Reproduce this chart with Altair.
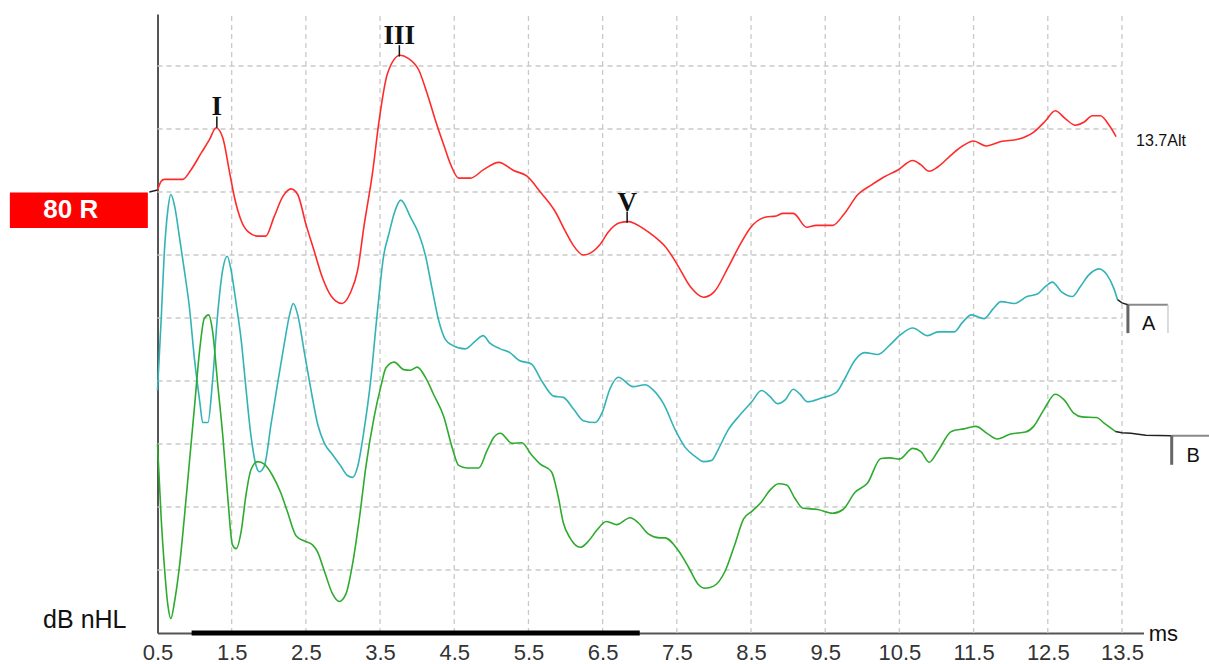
import altair as alt
import pandas as pd

# ---- axis layout (latency in ms, amplitude in grid divisions) ----
X_TICKS = [0.5 + i for i in range(14)]
AMP_GRID = [1, 2, 3, 4, 5, 6, 7, 8, 9]
X_MIN, X_MAX = 0.5, 13.79
Y_MIN, Y_MAX = 0.0, 9.825
ANALYSIS_WINDOW = [0.96, 7.0]

# ---- traces ----
RED_T = [0.50, 0.55, 0.59, 0.84, 0.95, 1.09, 1.20, 1.29, 1.38, 1.47, 1.54, 1.63, 1.72, 1.85,
         1.96, 2.07, 2.19, 2.30, 2.39, 2.50, 2.61, 2.72, 2.84, 2.99, 3.10, 3.20, 3.28, 3.40,
         3.49, 3.60, 3.77, 3.88, 4.02, 4.13, 4.24, 4.36, 4.45, 4.56, 4.72, 4.89, 5.10, 5.30,
         5.48, 5.66, 5.86, 6.00, 6.10, 6.24, 6.46, 6.58, 6.73, 6.85, 6.93, 7.11, 7.27, 7.34,
         7.50, 7.68, 7.86, 8.00, 8.19, 8.35, 8.49, 8.69, 8.84, 8.93, 9.07, 9.25, 9.38, 9.60,
         9.76, 9.94, 10.12, 10.28, 10.48, 10.68, 10.79, 10.90, 11.02, 11.20, 11.35, 11.50,
         11.67, 11.87, 12.11, 12.31, 12.47, 12.60, 12.74, 12.87, 12.99, 13.10, 13.21, 13.32,
         13.42]
RED_V = [7.03, 7.17, 7.20, 7.20, 7.35, 7.62, 7.83, 8.02, 7.86, 7.32, 6.90, 6.54, 6.37, 6.30,
         6.30, 6.60, 6.93, 7.05, 6.96, 6.49, 6.07, 5.65, 5.35, 5.23, 5.40, 5.77, 6.43, 7.32,
         8.16, 8.88, 9.17, 9.12, 8.94, 8.58, 8.16, 7.74, 7.44, 7.22, 7.22, 7.35, 7.47, 7.34,
         7.25, 7.00, 6.69, 6.37, 6.16, 6.00, 6.16, 6.37, 6.51, 6.53, 6.50, 6.37, 6.22, 6.14,
         5.86, 5.50, 5.33, 5.41, 5.80, 6.16, 6.43, 6.60, 6.62, 6.66, 6.66, 6.44, 6.47, 6.47,
         6.66, 6.96, 7.11, 7.23, 7.35, 7.50, 7.43, 7.33, 7.40, 7.59, 7.73, 7.81,
         7.73, 7.80, 7.84, 7.95, 8.13, 8.29, 8.16, 8.06, 8.11, 8.21, 8.21, 8.07,
         7.88]

TEAL_T = [0.50, 0.55, 0.59, 0.64, 0.68, 0.73, 0.80, 0.86, 0.93, 1.00, 1.07, 1.11, 1.18, 1.24,
          1.31, 1.38, 1.44, 1.49, 1.56, 1.63, 1.69, 1.76, 1.83, 1.87, 1.94, 2.03, 2.12, 2.21,
          2.28, 2.33, 2.39, 2.48, 2.57, 2.66, 2.75, 2.86, 2.97, 3.06, 3.13, 3.20, 3.28, 3.37,
          3.46, 3.55, 3.62, 3.69, 3.78, 3.91, 4.02, 4.11, 4.20, 4.29, 4.38, 4.47, 4.65, 4.78,
          4.89, 4.98, 5.12, 5.25, 5.37, 5.54, 5.68, 5.84, 5.97, 6.11, 6.24, 6.40, 6.49, 6.60,
          6.71, 6.91, 7.07, 7.18, 7.32, 7.48, 7.61, 7.75, 7.86, 7.97, 8.06, 8.19, 8.35, 8.51,
          8.64, 8.75, 8.86, 8.96, 9.07, 9.16, 9.26, 9.45, 9.65, 9.76, 9.90, 10.03, 10.21, 10.37,
          10.52, 10.68, 10.88, 11.02, 11.24, 11.35, 11.47, 11.64, 11.76, 11.87, 12.05, 12.22,
          12.36, 12.47, 12.56, 12.69, 12.83, 12.94, 13.05, 13.19, 13.30, 13.39, 13.44]
TEAL_V = [3.85, 4.99, 6.00, 6.72, 6.96, 6.78, 6.25, 5.77, 5.17, 4.33, 3.67, 3.34, 3.34, 3.97,
          5.05, 5.77, 5.98, 5.77, 5.23, 4.63, 3.91, 3.13, 2.65, 2.56, 2.65, 3.31, 3.97, 4.60,
          5.05, 5.23, 5.05, 4.45, 3.85, 3.31, 3.01, 2.83, 2.65, 2.50, 2.47, 2.65, 3.19, 3.97,
          5.05, 6.00, 6.34, 6.66, 6.87, 6.60, 6.34, 6.00, 5.47, 4.96, 4.66, 4.57, 4.51, 4.63,
          4.72, 4.60, 4.51, 4.45, 4.33, 4.27, 4.00, 3.76, 3.74, 3.55, 3.37, 3.34, 3.49, 3.88,
          4.06, 3.91, 3.94, 3.86, 3.64, 3.22, 2.95, 2.80, 2.72, 2.74, 2.92, 3.22, 3.46, 3.67,
          3.85, 3.76, 3.64, 3.70, 3.87, 3.79, 3.67, 3.73, 3.82, 4.03, 4.33, 4.45, 4.42, 4.57,
          4.74, 4.84, 4.72, 4.78, 4.78, 4.93, 5.05, 4.99, 5.14, 5.26, 5.23, 5.34,
          5.38, 5.50, 5.57, 5.41, 5.34, 5.50, 5.68, 5.78, 5.68, 5.47, 5.29]

GREEN_T = [0.50, 0.55, 0.59, 0.64, 0.68, 0.73, 0.80, 0.86, 0.93, 1.00, 1.07, 1.13, 1.19, 1.24,
           1.31, 1.38, 1.45, 1.51, 1.56, 1.63, 1.69, 1.76, 1.85, 1.94, 2.05, 2.16, 2.25, 2.37,
           2.48, 2.59, 2.66, 2.75, 2.86, 2.95, 3.04, 3.13, 3.22, 3.31, 3.42, 3.51, 3.58, 3.69,
           3.82, 3.91, 4.00, 4.11, 4.22, 4.36, 4.47, 4.56, 4.67, 4.83, 4.94, 5.03, 5.12, 5.28,
           5.41, 5.54, 5.66, 5.81, 5.90, 5.97, 6.06, 6.20, 6.31, 6.42, 6.55, 6.69, 6.87, 6.98,
           7.12, 7.27, 7.34, 7.52, 7.66, 7.79, 7.88, 7.99, 8.15, 8.28, 8.40, 8.51, 8.64, 8.75,
           8.87, 8.98, 9.09, 9.20, 9.40, 9.60, 9.74, 9.90, 10.07, 10.25, 10.37, 10.50, 10.68,
           10.79, 10.90, 11.02, 11.20, 11.37, 11.53, 11.69, 11.82, 12.00, 12.20, 12.31, 12.45,
           12.60, 12.72, 12.85, 12.96, 13.16, 13.25, 13.41]
GREEN_V = [3.00, 1.81, 1.10, 0.44, 0.23, 0.50, 1.10, 1.81, 2.71, 3.61, 4.51, 4.99, 5.05, 4.81,
           3.97, 3.13, 2.11, 1.40, 1.34, 1.63, 2.17, 2.59, 2.72, 2.68, 2.50, 2.23, 1.93, 1.54,
           1.46, 1.40, 1.28, 0.98, 0.62, 0.50, 0.62, 1.10, 1.81, 2.65, 3.43, 3.91, 4.21, 4.30,
           4.18, 4.17, 4.22, 4.06, 3.79, 3.43, 2.95, 2.66, 2.62, 2.62, 2.89, 3.10, 3.17, 3.01,
           3.02, 2.83, 2.68, 2.56, 2.17, 1.75, 1.51, 1.36, 1.46, 1.63, 1.77, 1.72, 1.83, 1.75,
           1.57, 1.51, 1.51, 1.31, 1.04, 0.77, 0.71, 0.74, 0.98, 1.40, 1.81, 1.93, 2.08, 2.26,
           2.37, 2.35, 2.14, 1.98, 1.96, 1.90, 1.96, 2.23, 2.38, 2.77, 2.78, 2.76, 2.93,
           2.88, 2.71, 2.89, 3.20, 3.24, 3.28, 3.16, 3.08, 3.16, 3.19, 3.28, 3.55,
           3.79, 3.70, 3.49, 3.43, 3.42, 3.34, 3.20]

# black lead-in / lead-out pieces of the traces
TAIL_ID = ["R", "R", "A", "A", "A", "B", "B", "B", "B", "B"]
TAIL_T = [0.39, 0.50, 13.44, 13.50, 13.58, 13.41, 13.50, 13.62, 13.82, 14.17]
TAIL_V = [7.00, 7.03, 5.29, 5.24, 5.21, 3.20, 3.18, 3.17, 3.14, 3.13]

# wave markers
PEAK_NAMES = ["I", "III", "V"]
PEAK_T = [1.30, 3.76, 6.83]
PEAK_V = [8.02, 9.15, 6.51]

TRACE_IDS = ["R", "A", "B"]
TRACE_COLORS = ["#ff2b2b", "#33b3b6", "#2eab2e"]

xs = alt.Scale(domain=[X_MIN, X_MAX], nice=False, zero=False)
ys = alt.Scale(domain=[Y_MIN, Y_MAX], nice=False, zero=False)

x_axis = alt.Axis(
    values=X_TICKS, format=".1f", labelFontSize=22, labelFont="Liberation Sans",
    labelColor="#333", ticks=False, grid=False, domainColor="#555", domainWidth=2,
    title=None, labelPadding=9, labelFlush=False, labelOverlap=False)
y_axis = alt.Axis(labels=False, ticks=False, grid=False, domainColor="#555",
                  domainWidth=2, title=None)


def X(f):
    return alt.X(f, type="quantitative", scale=xs, axis=x_axis)


def Y(f):
    return alt.Y(f, type="quantitative", scale=ys, axis=y_axis)


traces = pd.concat([
    pd.DataFrame({"t": RED_T, "v": RED_V, "id": "R"}),
    pd.DataFrame({"t": TEAL_T, "v": TEAL_V, "id": "A"}),
    pd.DataFrame({"t": GREEN_T, "v": GREEN_V, "id": "B"}),
], ignore_index=True)
tails = pd.DataFrame({"t": TAIL_T, "v": TAIL_V, "id": TAIL_ID})
peaks = pd.DataFrame({"name": PEAK_NAMES, "t": PEAK_T, "v": PEAK_V})

grid_dash = [5, 4]
grid_col = "#c9c9c9"

vgrid = alt.Chart(pd.DataFrame({"t": X_TICKS[1:], "lo": Y_MIN, "hi": Y_MAX})).mark_rule(
    color=grid_col, strokeDash=grid_dash, strokeWidth=1.3
).encode(x=X("t"), y=Y("lo"), y2="hi")

hgrid = alt.Chart(pd.DataFrame({"v": AMP_GRID, "a": X_TICKS[0], "b": X_TICKS[-1]})).mark_rule(
    color=grid_col, strokeDash=grid_dash, strokeWidth=1.3
).encode(y=Y("v"), x=X("a"), x2="b")

lines = alt.Chart(traces).mark_line(strokeWidth=1.6, interpolate="monotone").encode(
    x=X("t"), y=Y("v"),
    color=alt.Color("id:N", scale=alt.Scale(domain=TRACE_IDS, range=TRACE_COLORS), legend=None),
    detail="id:N",
)

tail_lines = alt.Chart(tails).mark_line(color="#222", strokeWidth=1.5).encode(
    x=X("t"), y=Y("v"), detail="id:N"
)

bar = alt.Chart(pd.DataFrame({"a": [ANALYSIS_WINDOW[0]], "b": [ANALYSIS_WINDOW[1]], "v": [0.0]})).mark_rule(
    color="black", strokeWidth=5
).encode(x=X("a"), x2="b", y=Y("v"))

peak_ticks = alt.Chart(peaks).transform_calculate(top="datum.v + 0.18").mark_rule(
    color="#111", strokeWidth=1.5
).encode(x=X("t"), y=Y("v"), y2="top:Q")

peak_text = alt.Chart(peaks).transform_calculate(top="datum.v + 0.18").mark_text(
    font="Liberation Serif", fontWeight="bold", fontSize=27, baseline="alphabetic",
    align="center", color="#111", dy=-1
).encode(x=X("t"), y=Y("top:Q"), text="name:N")

# level box on the left
lvl_box = alt.Chart(pd.DataFrame({"a": [-1.49], "b": [0.37], "lo": [6.43], "hi": [6.99]})).mark_rect(
    color="#ff0000"
).encode(x=X("a"), x2="b", y=Y("lo"), y2="hi")
lvl_text = alt.Chart(pd.DataFrame({"t": [-0.67], "v": [6.71], "s": ["80 R"]})).mark_text(
    font="Liberation Sans", fontWeight="bold", fontSize=26, color="white", baseline="middle", align="center"
).encode(x=X("t"), y=Y("v"), text="s:N")

# A / B trace tags
tag_rules = alt.Chart(pd.DataFrame({
    "a": [13.58, 13.58, 14.12, 14.17, 14.17],
    "b": [14.12, 13.58, 14.12, 14.80, 14.17],
    "lo": [5.21, 4.76, 4.76, 3.13, 2.67],
    "hi": [5.21, 5.21, 5.21, 3.13, 3.13],
    "c": ["#8a8a8a", "#666666", "#cfcfcf", "#8a8a8a", "#666666"],
    "w": [2.0, 3.0, 1.5, 2.0, 3.0],
})).mark_rule().encode(
    x=X("a"), x2="b", y=Y("lo"), y2="hi",
    color=alt.Color("c:N", scale=None), strokeWidth=alt.StrokeWidth("w:Q", scale=None)
)
tag_text = alt.Chart(pd.DataFrame({"t": [13.86, 14.46], "v": [4.81, 2.71], "s": ["A", "B"]})).mark_text(
    font="Liberation Sans", fontSize=20, color="#111", baseline="alphabetic", align="center"
).encode(x=X("t"), y=Y("v"), text="s:N")

side_text = pd.DataFrame({
    "t": [13.69, 13.86, -0.48],
    "v": [7.73, -0.13, 0.08],
    "s": ["13.7Alt", "ms", "dB nHL"],
    "fs": [16, 22, 25],
    "al": ["left", "left", "center"],
})
side_left = alt.Chart(side_text).transform_filter("datum.al == 'left'").mark_text(
    font="Liberation Sans", color="#111", baseline="alphabetic", align="left"
).encode(x=X("t"), y=Y("v"), text="s:N", size=alt.Size("fs:Q", scale=None))
side_center = alt.Chart(side_text).transform_filter("datum.al == 'center'").mark_text(
    font="Liberation Sans", color="#111", baseline="alphabetic", align="center"
).encode(x=X("t"), y=Y("v"), text="s:N", size=alt.Size("fs:Q", scale=None))

chart = alt.layer(
    vgrid, hgrid, lines, tail_lines, bar, peak_ticks, peak_text,
    lvl_box, lvl_text, tag_rules, tag_text, side_left, side_center
).properties(
    width=986, height=619, background="white",
    padding={"left": 157.5, "top": 14, "right": 65.5, "bottom": 31},
    autosize=alt.AutoSizeParams(type="none"),
).configure_view(stroke=None)

chart.save("out.html", embed_options={"renderer": "svg", "actions": False})
